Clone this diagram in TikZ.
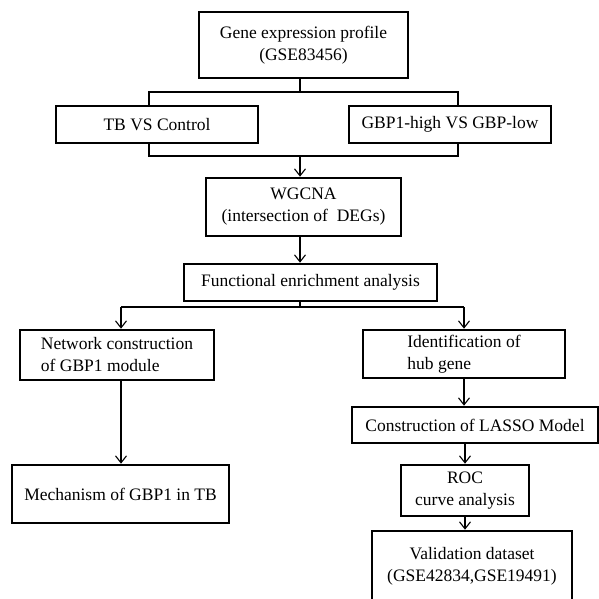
\documentclass[tikz,border=0pt]{standalone}
\usepackage{fontspec}
\setmainfont{Liberation Serif}
\usetikzlibrary{arrows.meta}

\begin{document}
\begin{tikzpicture}[
  x=1pt, y=-1pt,
  font=\fontsize{17.5}{22}\selectfont,
  box/.style={draw, line width=2.6pt, inner sep=0pt, align=center},
  lbox/.style={box, align=left},
  flow/.style={line width=1.1pt},
  arr/.style={flow, -{Straight Barb[length=7pt,width=11pt]}}
]
  \path[fill=white, use as bounding box] (0,0) rectangle (599,599);

  % Top: data set and the two comparisons
  \node[box, minimum width=209pt, minimum height=66pt] (gene) at (303.5,45) {Gene expression profile\\(GSE83456)};
  \node[box, minimum width=202pt, minimum height=37pt] (tb) at (157,124.5) {TB VS Control};
  \node[box, minimum width=202pt, minimum height=37pt] (gbp) at (450,124.5) {GBP1-high VS GBP-low};
  \node[box, minimum width=195pt, minimum height=58pt] (wgcna) at (303.5,207) {WGCNA\\(intersection of~ DEGs)};
  \node[box, minimum width=253pt, minimum height=37pt] (func) at (310.5,282.5) {Functional enrichment analysis};

  % Left branch
  \node[lbox, minimum width=194pt, minimum height=50pt] (net) at (117,355) {Network construction\\of GBP1 module};
  \node[box, minimum width=217pt, minimum height=58pt] (mech) at (120.5,494) {Mechanism of GBP1 in TB};

  % Right branch
  \node[lbox, minimum width=202pt, minimum height=48pt] (hub) at (464,354) {Identification of\\hub gene};
  \node[box, minimum width=246pt, minimum height=36pt] (lasso) at (475,425) {Construction of LASSO Model};
  \node[box, minimum width=128pt, minimum height=51pt] (roc) at (465,490.5) {ROC\\curve analysis};
  \node[box, minimum width=200pt, minimum height=70pt] (valid) at (472,566) {Validation dataset\\(GSE42834,GSE19491)};

  % Split and merge points
  \coordinate (s1) at (300,92);
  \coordinate (tl) at (149,92);
  \coordinate (tr) at (458,92);
  \coordinate (bl) at (149,156);
  \coordinate (br) at (458,156);
  \coordinate (m1) at (300,156);
  \coordinate (s2) at (300,307);
  \coordinate (sl) at (121,307);
  \coordinate (sr) at (464,307);

  \draw[flow] (gene.south -| s1) -- (s1);
  \draw[flow] (tl |- tb.north) -- (tl) -- (tr) -- (tr |- gbp.north);
  \draw[flow] (bl |- tb.south) -- (bl) -- (br) -- (br |- gbp.south);
  \draw[arr] (m1) -- (m1 |- wgcna.north);
  \draw[arr] (wgcna.south -| m1) -- (m1 |- func.north);

  \draw[flow] (func.south -| s2) -- (s2);
  \draw[flow] (sl) -- (sr);
  \draw[arr] (sl) -- (sl |- net.north);
  \draw[arr] (sr) -- (sr |- hub.north);
  \draw[arr] (sl |- net.south) -- (sl |- mech.north);

  \draw[arr] (sr |- hub.south) -- (sr |- lasso.north);
  \draw[arr] (roc.north |- lasso.south) -- (roc.north);
  \draw[arr] (roc.south) -- (roc.south |- valid.north);
\end{tikzpicture}
\end{document}
